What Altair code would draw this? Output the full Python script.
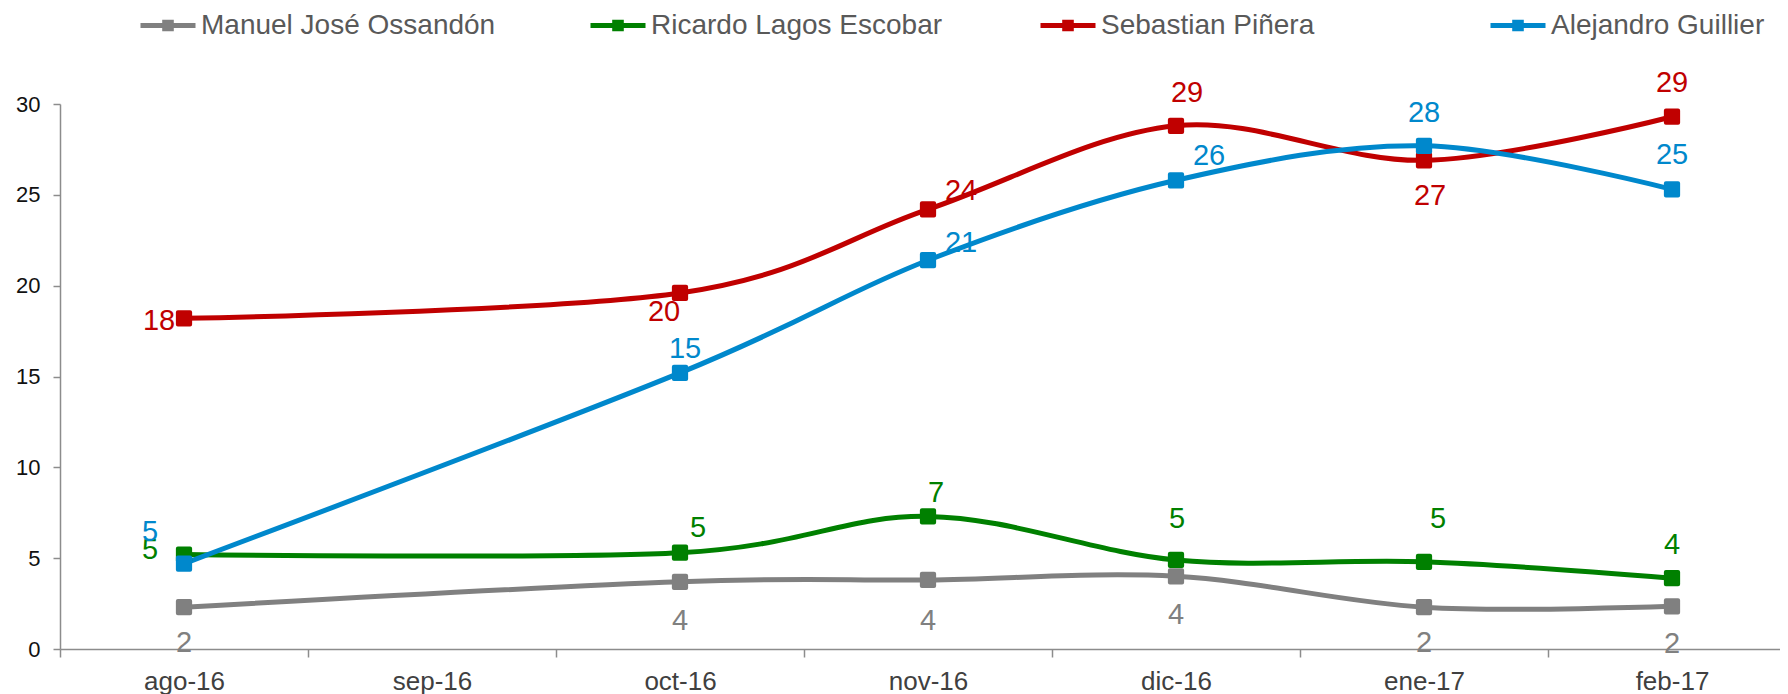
import altair as alt
import pandas as pd

# Axis categories (sep-16 has no survey)
months = ["ago-16", "sep-16", "oct-16", "nov-16", "dic-16", "ene-17", "feb-17"]
survey_months = ["ago-16", "oct-16", "nov-16", "dic-16", "ene-17", "feb-17"]

series = ["Manuel José Ossandón", "Ricardo Lagos Escobar", "Sebastian Piñera", "Alejandro Guillier"]

ossandon = [2.3, 3.7, 3.8, 4.0, 2.3, 2.35]
lagos = [5.2, 5.3, 7.3, 4.9, 4.8, 3.9]
pinera = [18.2, 19.6, 24.2, 28.8, 26.9, 29.3]
guillier = [4.7, 15.2, 21.4, 25.8, 27.7, 25.3]

values = [ossandon, lagos, pinera, guillier]
colors = ["#808080", "#008000", "#C00000", "#0088CC"]

# label placement (pixel offsets of each value label from its marker)
label_dx = [
    [0, 0, 0, 0, 0, 0],
    [-34, 18, 8, 1, 14, 0],
    [-25, -16, 33, 11, 6, 0],
    [-34, 5, 33, 33, 0, 0],
]
label_dy = [
    [36, 39, 41, 39, 36, 38],
    [-5, -25, -23, -41, -43, -33],
    [3, 19, -18, -33, 36, -34],
    [-32, -24, -17, -24, -33, -34],
]

rows = []
for si, s in enumerate(series):
    for mi, m in enumerate(survey_months):
        rows.append({"series": s, "month": m, "value": values[si][mi],
                     "dx": label_dx[si][mi], "dy": label_dy[si][mi]})
df = pd.DataFrame(rows)

FONT = "Liberation Sans"
AXIS_GRAY = "#8c8c8c"
BAND = 248

legend_path = "M-1,0 L1,0 M-0.12,-0.12 L0.12,-0.12 L0.12,0.12 L-0.12,0.12 Z"

x_enc = alt.X(
    "month:O",
    scale=alt.Scale(type="band", domain=months, range=[0, BAND * 7], paddingInner=0, paddingOuter=0),
    axis=alt.Axis(title=None, labelAngle=0, tickBand="extent", grid=False,
                  domainColor=AXIS_GRAY, tickColor=AXIS_GRAY, domainWidth=1.5, tickWidth=1.5,
                  tickSize=8, labelFontSize=26, labelFont=FONT, labelColor="#404040",
                  labelPadding=11),
)
y_enc = alt.Y(
    "value:Q",
    scale=alt.Scale(domain=[0, 30], nice=False, zero=True),
    axis=alt.Axis(title=None, values=[0, 5, 10, 15, 20, 25, 30], grid=False,
                  domainColor=AXIS_GRAY, tickColor=AXIS_GRAY, domainWidth=1.5, tickWidth=1.5,
                  tickSize=7, labelFontSize=22, labelFont=FONT, labelColor="#111111",
                  labelPadding=13),
)
color_scale = alt.Scale(domain=series, range=colors)
color_enc = alt.Color(
    "series:N",
    scale=color_scale,
    legend=alt.Legend(
        title=None, orient="none", legendX=78, legendY=-108.5, direction="horizontal",
        columns=4, gridAlign="all", columnPadding=84, padding=0,
        symbolType=legend_path, symbolSize=3025, symbolStrokeWidth=5,
        labelFontSize=28, labelFont=FONT, labelColor="#595959", labelOffset=3,
        labelLimit=400,
    ),
)

base = alt.Chart(df)

lines = base.mark_line(interpolate="cardinal", strokeWidth=5, clip=False).encode(
    x=x_enc, y=y_enc, color=color_enc, detail="series:N"
)
points = base.mark_square(
    size=150, opacity=1, filled=True, clip=False, strokeWidth=4, strokeJoin="round"
).encode(
    x=x_enc, y=y_enc, color=color_enc,
    stroke=alt.Stroke("series:N", scale=color_scale, legend=None),
)
labels = base.mark_text(
    fontSize=29, font=FONT, align="center", baseline="middle",
    dx={"expr": "datum.dx"}, dy={"expr": "datum.dy"}
).encode(
    x=x_enc, y=y_enc, color=color_enc, text=alt.Text("value:Q", format=".0f")
)

chart = alt.layer(lines, points, labels).properties(
    width=1720, height=545,
    autosize=alt.AutoSizeParams(type="none"),
    padding={"left": 52, "top": 96, "right": 0, "bottom": 48},
).configure(font=FONT).configure_view(strokeWidth=0, stroke="transparent")

chart.save("out.html", embed_options={"renderer": "svg", "actions": False})
